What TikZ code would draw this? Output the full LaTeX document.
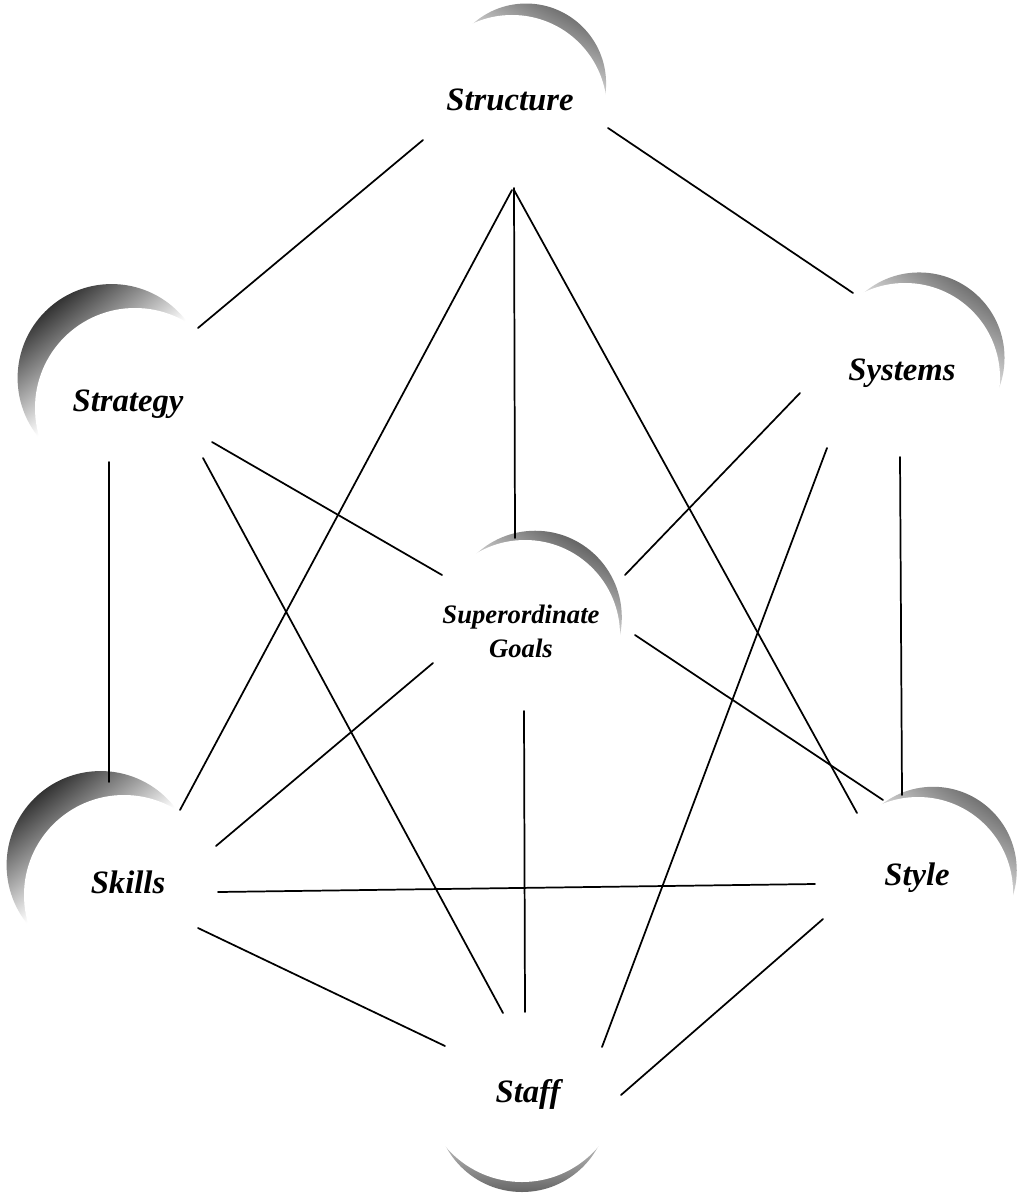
\documentclass[tikz,border=0pt]{standalone}
\usepackage{fontspec}
\setmainfont{Liberation Serif}
\usetikzlibrary{calc}
% #1 cx, #2 cy, #3 shadow angle (visual, deg), #4 R white, #5 offset d, #6 r gray, #7 colour, #8 shading angle (= #3-90)
\newcommand\mycrescent[8]{%
  \shade[top color=#7, bottom color=white, middle color=white, shading angle=#8]
    ($(#1,#2)+(-#3:#5)$) circle[radius=#6];
  \fill[white] (#1,#2) circle[radius=#4];
}
\begin{document}
\begin{tikzpicture}[x=0.75pt,y=-0.75pt,
  lbl/.style={font=\fontsize{24.5}{29}\selectfont\bfseries\itshape, inner sep=0pt},
  lblsmall/.style={font=\fontsize{20}{25.5}\selectfont\bfseries\itshape, inner sep=0pt, align=center},
  link/.style={line width=1.3pt, line cap=round, draw=black}]
\fill[white] (0,0) rectangle (1029,1194);
\useasboundingbox (0,0) rectangle (1029,1194);

% shadow crescents
\mycrescent{512}{110}{62}{95}{30}{80}{black!55}{-28}
\mycrescent{135}{408}{128}{100}{38}{94}{black!80}{38}
\mycrescent{905}{378}{55}{95}{24.6}{85.4}{black!55}{-35}
\mycrescent{525}{635}{60}{95}{20.4}{86.6}{black!60}{-30}
\mycrescent{124}{895}{128}{100}{38}{94}{black!80}{38}
\mycrescent{918}{892}{55}{95}{26.4}{83.6}{black!55}{-35}
\mycrescent{522}{1082}{-90}{100}{23.6}{86.4}{black!60}{-180}

% labels
\node[lbl, anchor=base] (structure) at (510,111) {Structure};
\node[lbl, anchor=base] (strategy) at (128,411) {Strategy};
\node[lbl, anchor=base] (systems) at (902,380) {Systems};
\node[lblsmall] (goals) at (521,631) {Superordinate\\Goals};
\node[lbl, anchor=base] (skills) at (128,893) {Skills};
\node[lbl, anchor=base] (style) at (917,885) {Style};
\node[lbl, anchor=base] (staff) at (528,1102) {Staff};

% connector ends (ports around each element)
\coordinate (structure-strategy) at (423,140);
\coordinate (strategy-structure) at (198,328);
\coordinate (structure-systems) at (608,128);
\coordinate (systems-structure) at (853,293);
\coordinate (structure-goals) at (514,188);
\coordinate (goals-structure) at (515,538);
\coordinate (structure-skills) at (512,190);
\coordinate (skills-structure) at (180,810);
\coordinate (structure-style) at (514,190);
\coordinate (style-structure) at (857,813);
\coordinate (strategy-goals) at (212,442);
\coordinate (goals-strategy) at (442,575);
\coordinate (strategy-staff) at (203,458);
\coordinate (staff-strategy) at (503,1013);
\coordinate (strategy-skills) at (109,462);
\coordinate (skills-strategy) at (109,782);
\coordinate (systems-goals) at (800,393);
\coordinate (goals-systems) at (625,575);
\coordinate (systems-staff) at (827,448);
\coordinate (staff-systems) at (602,1047);
\coordinate (systems-style) at (900,457);
\coordinate (style-systems) at (902,795);
\coordinate (goals-skills) at (433,663);
\coordinate (skills-goals) at (216,846);
\coordinate (goals-staff) at (524,711);
\coordinate (staff-goals) at (525,1012);
\coordinate (goals-style) at (635,635);
\coordinate (style-goals) at (883,800);
\coordinate (skills-style) at (218,892);
\coordinate (style-skills) at (815,884);
\coordinate (skills-staff) at (198,928);
\coordinate (staff-skills) at (445,1046);
\coordinate (style-staff) at (823,919);
\coordinate (staff-style) at (621,1095);

% connectors
\draw[link] (structure-strategy) -- (strategy-structure);
\draw[link] (structure-systems) -- (systems-structure);
\draw[link] (structure-goals) -- (goals-structure);
\draw[link] (structure-skills) -- (skills-structure);
\draw[link] (structure-style) -- (style-structure);
\draw[link] (strategy-goals) -- (goals-strategy);
\draw[link] (strategy-staff) -- (staff-strategy);
\draw[link] (strategy-skills) -- (skills-strategy);
\draw[link] (systems-goals) -- (goals-systems);
\draw[link] (systems-staff) -- (staff-systems);
\draw[link] (systems-style) -- (style-systems);
\draw[link] (goals-skills) -- (skills-goals);
\draw[link] (goals-staff) -- (staff-goals);
\draw[link] (goals-style) -- (style-goals);
\draw[link] (skills-style) -- (style-skills);
\draw[link] (skills-staff) -- (staff-skills);
\draw[link] (style-staff) -- (staff-style);
\end{tikzpicture}
\end{document}
